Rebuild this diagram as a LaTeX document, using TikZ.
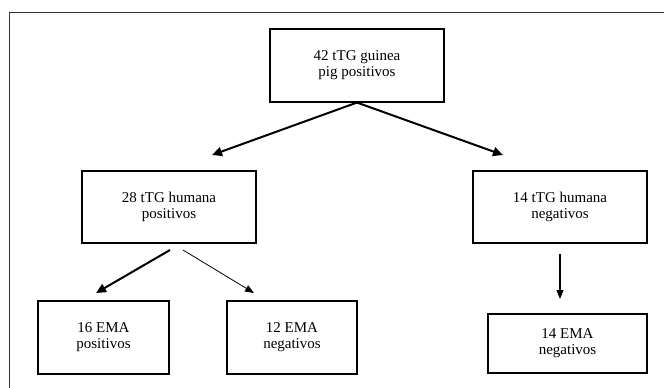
\documentclass[tikz,border=0pt]{standalone}
\usepackage{fontspec}
\setmainfont{Liberation Serif}
\usetikzlibrary{arrows.meta}
\begin{document}
\begin{tikzpicture}[x=1pt,y=-1pt,
  box/.style={draw=black, line width=1.1pt, inner sep=0pt, align=center,
              font=\fontsize{15}{16}\selectfont},
  heavyarrow/.style={line width=2pt, -{Triangle[length=10pt,width=9pt]}},
  lightarrow/.style={line width=0.8pt, -{Triangle[length=9pt,width=7pt]}},
  midarrow/.style={line width=1.1pt, -{Triangle[length=9pt,width=7pt]}}]
\useasboundingbox (0,0) rectangle (664,388);
\draw[line width=1pt, black!80] (9.5,388) -- (9.5,12) -- (664,12);

\node[box, minimum width=174pt, minimum height=73pt] (top) at (357,65.5) {42 tTG guinea\\pig positivos};
\node[box, minimum width=174pt, minimum height=72pt] (lmid) at (169,207) {28 tTG humana\\positivos};
\node[box, minimum width=174pt, minimum height=72pt] (rmid) at (560,207) {14 tTG humana\\negativos};
\node[box, minimum width=131pt, minimum height=73pt] (bl) at (103.5,337.5) {16 EMA\\positivos};
\node[box, minimum width=130pt, minimum height=73pt] (bm) at (292,337.5) {12 EMA\\negativos};
\node[box, minimum width=159pt, minimum height=59pt] (br) at (567.5,343.5) {14 EMA\\negativos};

\coordinate (tl) at (212,155);
\coordinate (tr) at (503,155);
\coordinate (ls1) at (170,250);
\coordinate (ls2) at (183,250);
\coordinate (lt1) at (96,293);
\coordinate (lt2) at (254,293);
\coordinate (rs) at (560,254);
\coordinate (rt) at (560,299);

\draw[heavyarrow] (top.south) -- (tl);
\draw[heavyarrow] (top.south) -- (tr);
\draw[heavyarrow] (ls1) -- (lt1);
\draw[lightarrow] (ls2) -- (lt2);
\draw[midarrow] (rs) -- (rt);
\end{tikzpicture}
\end{document}
